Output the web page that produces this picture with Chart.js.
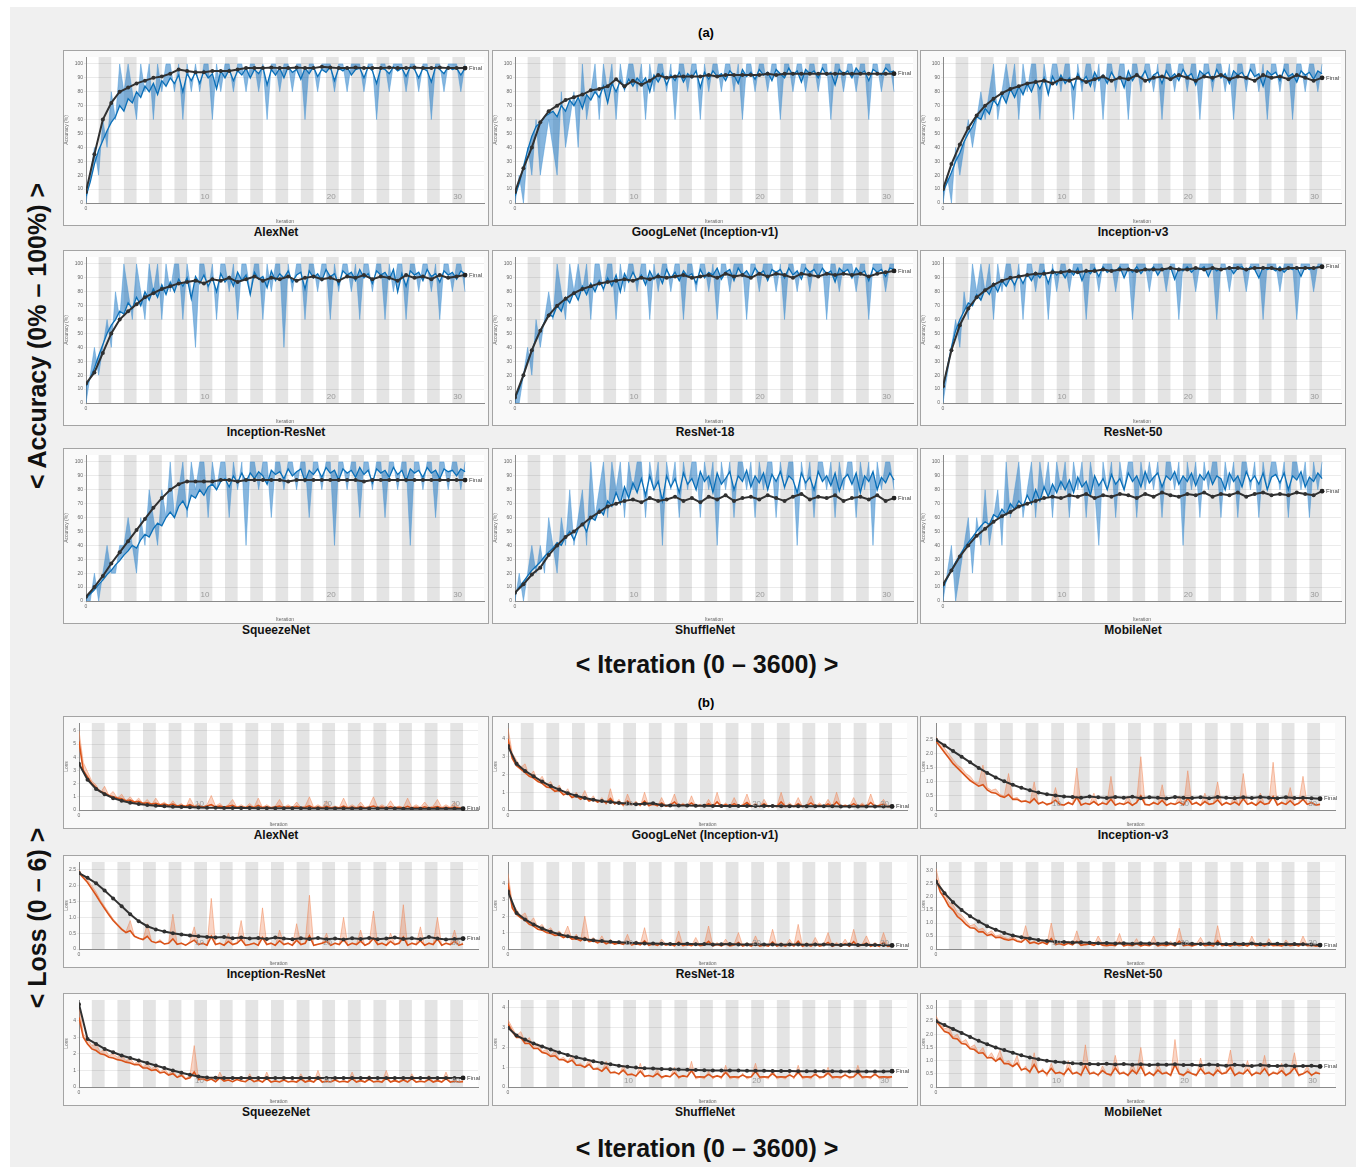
<!DOCTYPE html>
<html lang="en">
<head>
<meta charset="UTF-8">
<title>Training progress</title>
<style>
  body { margin: 0; width: 1364px; height: 1169px; background: #fff; position: relative; overflow: hidden;
         font-family: "Liberation Sans", Arial, sans-serif; }
  #frame { position: absolute; left: 10px; top: 7px; width: 1346px; height: 1160px; background: #f0f0f0; }
  .box { position: absolute; border: 1px solid #a4a4a4; background: #f9f9f9; box-sizing: border-box; }
  .box canvas { position: absolute; left: 0; top: 0; }
  .name { position: absolute; width: 426px; text-align: center; line-height: 16px;
          font: bold 12px "Liberation Sans Narrow", "Liberation Sans", Arial, sans-serif; color: #111; }
  .big { position: absolute; font: bold 25px "Liberation Sans", Arial, sans-serif; color: #111; white-space: nowrap;
         transform: translate(-50%, -50%); }
  .vert { transform: translate(-50%, -50%) rotate(-90deg); }
  .tag { position: absolute; font: bold 13px "Liberation Sans", Arial, sans-serif; transform: translate(-50%, -50%); }
</style>
</head>
<body>
<div id="frame"></div>
<div class="tag" style="left:706px;top:32px">(a)</div>
<div class="tag" style="left:706px;top:702px">(b)</div>
<div class="big" style="left:707px;top:664px">&lt; Iteration (0 – 3600) &gt;</div>
<div class="big" style="left:707px;top:1148px">&lt; Iteration (0 – 3600) &gt;</div>
<div class="big vert" style="left:37px;top:336px">&lt; Accuracy (0% – 100%) &gt;</div>
<div class="big vert" style="left:37px;top:918px">&lt; Loss (0 – 6) &gt;</div>

<script src="https://cdn.jsdelivr.net/npm/chart.js"></script>
<script>
// iterations of the training curves (raw / smoothed) and of the validation points
const ITERS = [0,40,80,120,160,200,240,280,320,360,
  400,440,480,520,560,600,640,680,720,760,
  800,840,880,920,960,1000,1040,1080,1120,1160,
  1200,1240,1280,1320,1360,1400,1440,1480,1520,1560,
  1600,1640,1680,1720,1760,1800,1840,1880,1920,1960,
  2000,2040,2080,2120,2160,2200,2240,2280,2320,2360,
  2400,2440,2480,2520,2560,2600,2640,2680,2720,2760,
  2800,2840,2880,2920,2960,3000,3040,3080,3120,3160,
  3200,3240,3280,3320,3360,3400,3440,3480,3520,3560,
  3600];
const VAL_ITERS = [0,80,160,240,320,400,480,560,640,720,
  800,880,960,1040,1120,1200,1280,1360,1440,1520,
  1600,1680,1760,1840,1920,2000,2080,2160,2240,2320,
  2400,2480,2560,2640,2720,2800,2880,2960,3040,3120,
  3200,3280,3360,3440,3520,3600];
const EPOCH_LEN = 120;
const N_EPOCHS = 30;
const EPOCH_TAGS = [10, 20, 30];

// ---------- accuracy (%) ----------
const alexAccRaw = [0,20,40,20,60,40,80,60,100,80, 100,80,60,100,80,100,60,100,80,100,
  100,80,100,60,100,80,100,80,100,100, 60,100,80,100,100,80,100,100,80,100,
  100,80,100,60,100,100,80,100,100,80, 100,100,60,100,100,80,100,100,100,80,
  100,100,80,100,100,100,80,100,100,60, 100,100,80,100,100,100,80,100,100,80,
  100,100,60,100,100,80,100,100,100,80, 100];
const alexAccSmooth = [5,15,28,38,45,52,58,62,70,66, 75,72,80,76,84,80,86,78,88,84,
  90,86,92,80,93,88,94,86,95,90, 93,82,95,90,96,88,95,92,97,90,
  96,93,98,85,96,92,97,90,98,94, 96,89,97,93,98,91,96,94,98,88,
  97,95,98,92,96,97,90,98,95,86, 97,96,93,98,95,97,91,98,96,90,
  97,95,87,98,96,93,98,96,97,92, 97];
const alexAccVal = [8,35,60,72,80,83,86,88,90,91, 93,96,95,94,94,95,95,95,96,97,
  97,97,97.5,97,97,97.5,97,97,98,97.5, 97,97,97.5,97,97,97,97.5,97,97,97.5, 97,97,97.5,97,97,97];

const googAccRaw = [0,20,0,40,20,60,20,40,60,40, 20,80,40,60,80,40,100,60,80,100,
  60,100,80,100,60,100,80,100,100,80, 100,60,100,80,100,100,80,100,60,100,
  100,80,100,100,60,100,80,100,100,80, 100,100,80,100,60,100,100,80,100,100,
  80,100,100,60,100,100,80,100,100,80, 100,100,80,100,100,60,100,100,80,100,
  100,80,100,100,60,100,100,80,100,100, 80];
const googAccSmooth = [5,14,26,38,48,55,58,62,64,66, 62,70,66,74,70,76,68,78,74,80,
  76,84,72,86,80,88,82,89,84,90, 86,90,80,92,87,93,85,92,88,94,
  87,93,90,95,83,94,89,95,91,93, 88,95,92,86,96,91,94,89,96,92,
  94,88,96,93,90,97,92,95,87,96, 93,95,90,97,92,94,85,96,93,95,
  90,97,93,95,88,96,94,92,97,94, 95];
const googAccVal = [8,25,40,58,66,70,74,76,78,81, 82,84,89,84,88,85,88,92,90,91,
  91,91,91,92,91,92,92,92,92,92, 93,92,93,93,93,93,93,93,93,93, 93,93,93,93,93,93];

const incv3AccRaw = [0,20,0,40,20,40,60,40,60,80, 60,80,100,60,80,100,80,100,60,100,
  80,100,100,60,100,80,100,100,80,100, 100,60,100,80,100,100,80,100,60,100,
  100,80,100,100,60,100,100,80,100,100, 80,100,60,100,100,80,100,100,80,100,
  100,60,100,100,80,100,100,80,100,60, 100,100,80,100,100,80,100,60,100,100,
  80,100,100,60,100,100,80,100,100,80, 100];
const incv3AccSmooth = [8,15,22,30,36,44,50,55,62,60, 68,64,74,70,78,72,82,76,84,78,
  86,80,88,82,90,78,91,85,92,86, 90,82,93,87,91,84,94,88,92,86,
  94,89,91,83,95,88,93,90,95,87, 92,94,86,95,90,93,88,96,91,93,
  85,95,92,94,88,96,90,93,86,95, 92,94,89,96,91,93,84,95,92,94,
  88,96,91,93,87,95,92,94,89,95, 93];
const incv3AccVal = [10,28,42,54,63,70,75,79,82,84, 86,87,88,86,89,88,90,87,89,91,
  88,90,89,92,88,90,91,89,92,90, 88,91,90,92,89,91,90,88,92,90, 91,89,92,90,88,90];

const incresAccRaw = [0,20,40,20,40,60,40,80,60,100, 80,60,100,80,60,100,80,100,60,100,
  80,100,100,60,100,80,40,100,100,80, 100,60,100,100,80,100,60,100,100,80,
  100,100,60,100,80,100,100,40,100,80, 100,100,60,100,100,80,100,100,60,100,
  80,100,100,80,100,60,100,100,80,100, 100,60,100,80,100,100,60,100,100,80,
  100,100,80,100,60,100,100,80,100,100, 80];
const incresAccSmooth = [12,18,25,34,42,50,56,60,66,64, 72,68,76,70,80,74,82,76,85,78,
  87,80,89,84,90,75,91,86,92,84, 90,80,93,87,91,84,94,88,92,78,
  94,89,91,83,95,88,93,90,95,87, 92,94,82,95,90,93,88,96,91,93,
  85,95,92,94,88,96,90,93,86,95, 92,94,89,96,80,93,84,95,92,94,
  88,96,91,93,87,95,92,94,89,95, 93];
const incresAccVal = [14,22,36,50,60,66,71,76,79,82, 84,86,87,88,86,89,88,90,87,89,
  91,88,90,89,91,88,90,91,89,90, 88,91,90,92,89,91,90,88,92,90, 91,89,92,90,91,92];

const res18AccRaw = [0,0,20,40,20,60,40,60,80,60, 100,80,60,100,80,100,80,100,60,100,
  100,80,100,100,60,100,80,100,100,80, 100,100,60,100,80,100,100,80,100,100,
  60,100,100,80,100,100,80,100,60,100, 100,80,100,100,100,60,100,100,80,100,
  100,100,80,100,60,100,100,80,100,100, 80,100,100,100,60,100,100,80,100,100,
  100,80,100,100,60,100,100,100,80,100, 100];
const res18AccSmooth = [3,10,20,30,38,46,52,58,64,62, 70,66,76,72,80,74,84,78,86,80,
  88,82,90,84,92,80,93,87,94,88, 92,85,95,89,93,86,96,90,94,88,
  95,91,93,86,96,90,94,92,97,89, 94,96,88,97,92,95,90,97,93,95,
  88,96,94,96,90,97,92,95,89,97, 94,96,91,97,93,95,87,97,94,96,
  90,97,93,95,88,97,94,96,91,97, 96];
const res18AccVal = [4,20,38,52,63,70,75,79,82,84, 86,87,88,89,88,90,89,91,90,91,
  92,90,91,92,90,93,91,92,90,93, 91,93,92,90,93,92,91,93,92,93, 92,93,91,93,94,95];

const res50AccRaw = [0,20,40,60,40,80,60,100,80,100, 80,100,60,100,80,100,100,80,100,60,
  100,100,80,100,100,60,100,80,100,100, 80,100,100,100,60,100,100,80,100,100,
  100,80,100,100,100,60,100,100,100,80, 100,100,100,80,100,100,60,100,100,100,
  80,100,100,100,100,60,100,100,80,100, 100,100,80,100,100,100,60,100,100,100,
  80,100,100,100,60,100,100,100,80,100, 100];
const res50AccSmooth = [10,25,40,52,60,66,72,70,78,74, 82,78,86,80,88,84,90,85,92,86,
  93,88,94,90,95,86,96,92,95,90, 96,92,97,88,96,93,97,91,98,94,
  96,95,98,90,97,94,98,93,97,95, 98,92,97,96,98,89,97,95,98,94,
  97,96,98,91,98,95,97,96,98,93, 97,98,95,98,96,90,98,96,97,95,
  98,94,97,96,98,91,98,96,97,98, 97];
const res50AccVal = [12,38,56,68,76,81,85,88,90,91, 92,93,93,94,94,95,94,95,95,96,
  95,96,96,95,96,96,96,97,96,96, 97,96,97,96,97,97,96,97,97,97, 96,97,97,97,97,98];

const squeezeAccRaw = [0,0,20,0,20,40,20,20,40,40, 60,40,20,60,40,80,60,40,80,60,
  100,60,80,100,60,100,80,100,100,60, 100,80,100,100,60,100,80,100,40,100,
  100,80,100,100,60,100,100,80,100,100, 80,100,100,60,100,100,80,100,100,40,
  100,100,80,100,100,60,100,100,80,100, 100,60,100,100,80,100,100,40,100,100,
  80,100,100,60,100,100,80,100,100,80, 100];
const squeezeAccSmooth = [2,5,8,12,15,19,22,26,29,33, 36,40,38,44,48,46,52,56,54,60,
  64,60,68,72,66,76,74,80,76,82, 84,80,86,88,82,90,85,92,86,92,
  88,93,90,84,94,91,93,88,95,90, 93,95,86,94,91,95,89,96,92,94,
  87,95,92,94,89,96,91,94,85,95, 92,94,89,96,91,94,86,95,92,94,
  89,96,92,94,88,95,93,94,90,95, 93];
const squeezeAccVal = [3,10,18,27,35,43,51,59,67,74, 80,84,86,86,86,86,87,87,86,87,
  87,87,87,87,86,87,87,87,87,87, 87,87,87,86,87,87,87,87,87,87, 87,87,87,87,87,87];

const shuffleAccRaw = [0,20,0,20,40,20,40,20,60,40, 20,60,40,80,40,60,80,40,100,60,
  80,100,60,100,80,100,60,100,80,100, 100,60,100,80,100,40,100,80,100,60,
  100,80,100,100,60,100,80,100,40,100, 80,100,60,100,100,80,100,60,100,80,
  100,100,60,100,80,100,100,40,100,80, 100,60,100,100,80,100,60,100,80,100,
  100,60,100,80,100,40,100,80,100,100, 80];
const shuffleAccSmooth = [5,10,14,18,22,25,28,32,35,38, 42,40,46,50,44,52,56,50,60,58,
  66,62,72,68,78,70,82,74,85,78, 88,76,90,80,86,72,90,82,88,78,
  92,84,88,80,93,86,90,78,92,84, 88,93,80,90,86,94,82,90,85,92,
  80,91,86,93,82,90,87,78,92,85, 89,80,93,86,90,83,92,79,88,91,
  84,92,78,90,86,93,80,89,85,92, 87];
const shuffleAccVal = [6,12,19,24,33,40,46,50,55,60, 64,68,70,72,73,71,74,72,73,75,
  72,74,71,75,73,76,72,74,75,73, 76,74,72,75,77,73,75,74,76,72, 74,75,73,76,72,74];

const mobileAccRaw = [0,20,40,0,20,40,60,20,60,40, 80,40,60,80,40,100,60,80,100,60,
  80,100,60,100,80,100,60,100,80,100, 60,100,80,100,60,100,80,40,100,80,
  100,60,100,80,100,100,60,100,80,100, 80,100,60,100,100,80,100,40,100,80,
  100,60,100,80,100,100,60,100,80,100, 60,100,100,80,100,60,100,80,100,100,
  80,100,60,100,100,80,100,60,100,80, 100];
const mobileAccSmooth = [10,16,22,28,33,38,42,46,50,54, 57,55,62,60,66,62,70,66,72,68,
  76,70,80,72,82,75,84,78,86,80, 87,78,89,82,86,76,90,83,88,80,
  91,84,88,80,92,86,90,82,93,85, 89,92,82,90,87,93,84,90,86,92,
  83,91,87,93,84,90,88,80,92,86, 90,82,93,86,90,84,92,80,89,91,
  85,92,80,90,87,93,82,89,86,92, 88];
const mobileAccVal = [12,22,32,40,47,52,57,61,64,68, 70,72,74,75,74,76,75,77,74,76,
  75,77,76,74,77,75,78,76,75,77, 76,78,75,77,76,78,75,77,78,76, 77,76,78,77,76,79];

// ---------- loss ----------
const alexLossRaw = [6.0,3.6,2.9,2.2,1.9,1.3,1.8,1.1,1.4,0.9, 1.2,0.7,1.0,0.6,0.9,0.5,0.8,0.4,0.9,0.4,
  0.6,0.3,0.7,0.3,0.5,0.2,0.9,0.3,0.5,0.2, 0.4,1.1,0.3,0.5,0.2,0.4,0.8,0.2,0.4,0.2,
  0.5,0.2,0.9,0.2,0.4,0.2,0.3,0.8,0.2,0.4, 0.2,0.6,0.2,0.3,1.0,0.2,0.4,0.2,0.7,0.2,
  0.3,0.2,0.9,0.2,0.4,0.2,0.6,0.2,0.3,1.0, 0.2,0.4,0.2,0.7,0.2,0.3,0.2,0.9,0.2,0.4,
  0.2,0.6,0.2,0.3,0.8,0.2,0.4,0.2,0.6,0.2, 0.2];
const alexLossSmooth = [5.2,3.0,2.5,2.0,1.7,1.4,1.3,1.1,1.0,0.9, 0.85,0.7,0.75,0.6,0.65,0.5,0.55,0.45,0.5,0.4,
  0.45,0.35,0.45,0.3,0.35,0.28,0.4,0.25,0.32,0.22, 0.3,0.4,0.22,0.3,0.2,0.28,0.35,0.2,0.25,0.18,
  0.28,0.18,0.35,0.18,0.25,0.17,0.22,0.3,0.17,0.24, 0.17,0.28,0.16,0.2,0.32,0.16,0.22,0.16,0.28,0.15,
  0.2,0.15,0.3,0.15,0.22,0.15,0.25,0.15,0.2,0.3, 0.15,0.22,0.14,0.26,0.14,0.2,0.14,0.28,0.14,0.2,
  0.14,0.24,0.14,0.18,0.26,0.13,0.2,0.13,0.22,0.13, 0.15];
const alexLossVal = [3.5,2.3,1.6,1.2,0.9,0.7,0.55,0.45,0.38,0.32, 0.28,0.25,0.22,0.2,0.19,0.18,0.17,0.16,0.16,0.15,
  0.15,0.14,0.14,0.14,0.13,0.13,0.13,0.12,0.12,0.12, 0.12,0.12,0.11,0.11,0.11,0.11,0.11,0.11,0.1,0.1,
  0.1,0.1,0.1,0.1,0.1,0.1];

const googLossRaw = [4.6,3.2,2.8,2.4,2.6,1.9,2.2,1.6,1.9,1.4, 1.6,1.1,1.4,0.9,1.2,0.7,1.0,0.6,1.1,0.5,
  0.8,0.4,0.7,0.3,1.2,0.3,0.6,0.2,0.9,0.3, 0.5,0.2,1.0,0.2,0.4,0.2,0.7,0.2,0.3,0.9,
  0.2,0.4,0.2,0.8,0.2,0.3,0.2,0.6,0.2,1.0, 0.2,0.4,0.2,0.7,0.2,0.3,0.9,0.2,0.4,0.2,
  0.6,0.2,0.3,0.2,1.0,0.2,0.4,0.2,0.7,0.2, 0.3,0.8,0.2,0.4,0.2,0.6,0.2,1.0,0.2,0.3,
  0.2,0.7,0.2,0.4,0.2,0.9,0.2,0.3,0.6,0.2, 0.3];
const googLossSmooth = [4.0,2.9,2.5,2.3,2.1,1.9,1.8,1.6,1.5,1.3, 1.25,1.05,1.1,0.85,0.95,0.7,0.8,0.6,0.75,0.5,
  0.6,0.45,0.55,0.4,0.65,0.35,0.45,0.3,0.5,0.3, 0.38,0.28,0.5,0.25,0.32,0.24,0.4,0.22,0.28,0.45,
  0.22,0.3,0.22,0.4,0.21,0.27,0.2,0.35,0.2,0.45, 0.2,0.3,0.2,0.36,0.2,0.26,0.42,0.2,0.3,0.19,
  0.35,0.19,0.25,0.19,0.45,0.19,0.28,0.19,0.36,0.19, 0.24,0.4,0.19,0.28,0.19,0.34,0.19,0.45,0.19,0.25,
  0.19,0.36,0.19,0.28,0.19,0.42,0.19,0.25,0.33,0.19, 0.22];
const googLossVal = [3.6,2.6,2.2,1.9,1.6,1.35,1.15,0.95,0.8,0.68, 0.58,0.5,0.45,0.4,0.36,0.33,0.35,0.38,0.27,0.26,
  0.25,0.25,0.24,0.24,0.23,0.23,0.23,0.22,0.22,0.22, 0.22,0.22,0.21,0.21,0.21,0.21,0.21,0.21,0.21,0.2,
  0.2,0.2,0.2,0.2,0.2,0.2];

const incv3LossRaw = [2.6,2.4,2.2,2.0,1.8,1.6,1.5,1.3,1.2,1.0, 0.95,1.6,0.8,0.7,0.75,0.55,0.5,1.3,0.4,0.45,
  0.3,0.35,0.25,1.0,0.2,0.3,0.15,0.25,0.8,0.2, 0.15,0.3,0.2,1.5,0.15,0.25,0.2,0.6,0.15,0.3,
  0.2,1.2,0.15,0.25,0.2,0.5,0.15,0.3,1.9,0.2, 0.15,0.3,0.2,0.9,0.15,0.25,0.2,0.5,0.15,1.4,
  0.2,0.3,0.15,0.6,0.2,0.25,1.0,0.15,0.3,0.2, 0.5,0.15,1.3,0.2,0.3,0.15,0.6,0.2,0.25,1.7,
  0.15,0.3,0.2,0.8,0.15,0.25,1.2,0.2,0.3,0.15, 0.2];
const incv3LossSmooth = [2.45,2.25,2.05,1.85,1.65,1.5,1.35,1.2,1.05,0.95, 0.85,0.9,0.72,0.62,0.6,0.5,0.45,0.55,0.38,0.38,
  0.3,0.32,0.26,0.4,0.22,0.28,0.2,0.24,0.35,0.2, 0.18,0.26,0.2,0.45,0.18,0.24,0.2,0.3,0.18,0.25,
  0.2,0.38,0.18,0.24,0.2,0.28,0.17,0.26,0.5,0.2, 0.18,0.26,0.2,0.34,0.17,0.24,0.2,0.28,0.18,0.42,
  0.2,0.26,0.17,0.3,0.2,0.23,0.36,0.18,0.26,0.2, 0.28,0.18,0.4,0.2,0.26,0.17,0.3,0.2,0.24,0.48,
  0.18,0.26,0.2,0.33,0.18,0.24,0.38,0.2,0.26,0.18, 0.2];
const incv3LossVal = [2.5,2.3,2.1,1.9,1.7,1.5,1.32,1.16,1.02,0.9, 0.79,0.7,0.62,0.56,0.52,0.48,0.46,0.44,0.48,0.45,
  0.43,0.46,0.44,0.47,0.42,0.45,0.44,0.41,0.46,0.44, 0.43,0.45,0.42,0.46,0.44,0.42,0.45,0.43,0.46,0.44,
  0.42,0.45,0.43,0.44,0.42,0.4];

const incresLossRaw = [2.5,2.3,2.2,2.0,1.8,1.55,1.35,1.15,0.95,0.8, 0.65,0.55,0.9,0.4,0.35,0.3,0.8,0.25,0.2,0.3,
  0.15,0.2,1.1,0.15,0.2,0.1,0.25,0.7,0.15,0.2, 0.1,1.6,0.15,0.2,0.1,0.5,0.15,0.2,0.9,0.1,
  0.15,0.2,0.1,1.3,0.15,0.2,0.1,0.6,0.15,0.2, 0.1,0.8,0.15,0.2,1.7,0.1,0.15,0.2,0.5,0.1,
  0.2,0.15,1.0,0.1,0.2,0.15,0.6,0.1,0.2,1.2, 0.15,0.2,0.1,0.5,0.15,0.2,1.4,0.1,0.2,0.15,
  0.7,0.1,0.2,0.15,1.0,0.1,0.2,0.15,0.6,0.1, 0.2];
const incresLossSmooth = [2.4,2.25,2.1,1.9,1.7,1.48,1.28,1.08,0.9,0.76, 0.62,0.52,0.58,0.4,0.34,0.3,0.4,0.24,0.2,0.24,
  0.16,0.18,0.32,0.15,0.18,0.12,0.2,0.28,0.14,0.18, 0.12,0.4,0.14,0.18,0.12,0.24,0.14,0.18,0.3,0.12,
  0.14,0.18,0.12,0.36,0.14,0.18,0.12,0.26,0.14,0.18, 0.12,0.28,0.14,0.18,0.42,0.12,0.15,0.18,0.24,0.12,
  0.18,0.14,0.3,0.12,0.18,0.14,0.25,0.12,0.18,0.34, 0.14,0.18,0.12,0.24,0.14,0.18,0.38,0.12,0.18,0.14,
  0.26,0.12,0.18,0.14,0.32,0.12,0.18,0.14,0.24,0.12, 0.16];
const incresLossVal = [2.4,2.25,2.08,1.85,1.6,1.35,1.1,0.88,0.72,0.62, 0.55,0.5,0.46,0.43,0.4,0.38,0.36,0.38,0.34,0.36,
  0.33,0.35,0.32,0.36,0.33,0.31,0.34,0.32,0.35,0.31, 0.33,0.3,0.34,0.32,0.35,0.31,0.33,0.36,0.32,0.34,
  0.31,0.38,0.33,0.3,0.32,0.33];

const res18LossRaw = [4.6,2.8,2.4,2.0,2.2,1.6,1.9,1.3,1.5,1.1, 1.3,0.9,1.1,0.8,1.4,0.6,0.9,0.5,2.0,0.5,
  0.7,0.4,0.8,0.3,0.6,0.3,0.5,0.3,0.9,0.2, 0.5,0.3,1.3,0.2,0.4,0.2,0.6,0.3,0.4,0.2,
  1.1,0.2,0.4,0.2,0.7,0.2,0.3,1.4,0.2,0.4, 0.2,0.6,0.2,0.3,1.0,0.2,0.4,0.2,0.8,0.2,
  0.3,0.2,1.2,0.2,0.4,0.2,0.6,0.2,1.5,0.2, 0.4,0.2,0.7,0.2,0.3,1.0,0.2,0.4,0.2,0.6,
  0.2,1.2,0.2,0.3,0.8,0.2,0.4,0.2,1.0,0.2, 0.3];
const res18LossSmooth = [4.0,2.5,2.1,1.9,1.75,1.5,1.4,1.2,1.15,1.0, 0.95,0.82,0.85,0.7,0.8,0.6,0.62,0.5,0.7,0.45,
  0.5,0.38,0.5,0.32,0.42,0.3,0.36,0.28,0.45,0.25, 0.34,0.26,0.5,0.22,0.3,0.22,0.36,0.24,0.3,0.2,
  0.42,0.2,0.28,0.2,0.34,0.2,0.24,0.46,0.19,0.28, 0.19,0.32,0.19,0.24,0.4,0.18,0.28,0.18,0.36,0.18,
  0.24,0.18,0.42,0.18,0.28,0.18,0.32,0.18,0.48,0.17, 0.28,0.17,0.34,0.17,0.24,0.4,0.17,0.28,0.17,0.32,
  0.17,0.44,0.17,0.24,0.36,0.16,0.28,0.16,0.4,0.16, 0.2];
const res18LossVal = [3.5,2.2,1.8,1.5,1.25,1.05,0.9,0.78,0.68,0.6, 0.53,0.48,0.44,0.41,0.38,0.36,0.34,0.33,0.32,0.31,
  0.3,0.32,0.29,0.3,0.28,0.29,0.3,0.28,0.27,0.29, 0.27,0.28,0.26,0.28,0.27,0.26,0.28,0.27,0.26,0.25,
  0.27,0.25,0.26,0.25,0.24,0.22];

const res50LossRaw = [3.1,2.4,2.2,1.8,1.7,1.4,1.3,1.1,0.9,0.95, 0.75,0.8,0.6,0.7,0.5,0.55,0.45,0.4,0.5,0.35,
  0.3,0.9,0.25,0.3,0.2,0.35,0.2,1.0,0.2,0.25, 0.15,0.3,0.2,0.7,0.15,0.2,0.25,0.15,0.5,0.2,
  0.15,0.2,0.15,0.6,0.1,0.2,0.15,0.4,0.1,0.2, 0.15,0.5,0.1,0.2,0.15,0.3,0.1,0.8,0.15,0.2,
  0.1,0.2,0.45,0.15,0.2,0.1,0.9,0.15,0.2,0.1, 0.3,0.15,0.2,0.1,0.5,0.15,0.2,0.1,0.4,0.15,
  0.2,0.1,0.35,0.15,0.2,0.1,0.5,0.15,0.2,0.1, 0.15];
const res50LossSmooth = [2.7,2.2,1.95,1.65,1.5,1.25,1.12,0.95,0.82,0.8, 0.66,0.66,0.52,0.56,0.44,0.45,0.38,0.34,0.38,0.3,
  0.26,0.4,0.22,0.26,0.2,0.26,0.18,0.4,0.17,0.2, 0.15,0.22,0.16,0.3,0.14,0.17,0.19,0.14,0.24,0.15,
  0.13,0.16,0.13,0.26,0.12,0.16,0.13,0.2,0.12,0.16, 0.13,0.22,0.12,0.16,0.13,0.18,0.12,0.3,0.13,0.16,
  0.12,0.16,0.22,0.13,0.16,0.12,0.32,0.13,0.16,0.12, 0.18,0.13,0.16,0.12,0.22,0.13,0.16,0.12,0.2,0.13,
  0.15,0.12,0.18,0.13,0.16,0.12,0.22,0.13,0.15,0.12, 0.13];
const res50LossVal = [2.6,2.15,1.8,1.5,1.26,1.06,0.88,0.74,0.62,0.52, 0.45,0.4,0.35,0.31,0.28,0.27,0.25,0.26,0.24,0.22,
  0.23,0.21,0.22,0.2,0.22,0.21,0.2,0.22,0.19,0.21, 0.2,0.19,0.21,0.2,0.18,0.2,0.19,0.21,0.18,0.19,
  0.2,0.18,0.19,0.18,0.17,0.15];

const squeezeLossRaw = [5.0,3.2,2.9,2.5,2.6,2.1,2.3,1.9,2.0,1.8, 1.9,1.6,1.7,1.4,1.6,1.2,1.4,1.1,1.3,0.9,
  1.1,0.8,1.0,0.6,0.9,0.5,0.7,2.5,0.5,0.6, 0.4,0.6,0.3,0.9,0.4,0.5,0.3,0.6,0.4,0.3,
  0.8,0.3,0.5,0.3,0.9,0.3,0.4,0.3,0.6,0.3, 0.4,0.3,0.8,0.3,0.5,0.3,1.0,0.3,0.4,0.3,
  0.6,0.3,0.4,0.3,0.9,0.3,0.5,0.3,0.7,0.3, 0.4,0.3,1.0,0.3,0.5,0.3,0.6,0.3,0.8,0.3,
  0.4,0.3,0.7,0.3,0.5,0.3,0.9,0.3,0.4,0.3, 0.4];
const squeezeLossSmooth = [4.2,3.0,2.6,2.3,2.2,2.0,1.95,1.8,1.75,1.65, 1.6,1.5,1.45,1.35,1.35,1.15,1.15,1.0,1.05,0.85,
  0.9,0.72,0.8,0.58,0.7,0.48,0.55,0.9,0.45,0.5, 0.38,0.48,0.32,0.55,0.36,0.42,0.32,0.45,0.36,0.32,
  0.5,0.32,0.4,0.3,0.52,0.3,0.36,0.3,0.42,0.3, 0.35,0.3,0.48,0.3,0.38,0.3,0.55,0.3,0.35,0.3,
  0.42,0.3,0.35,0.3,0.5,0.3,0.38,0.3,0.46,0.3, 0.35,0.3,0.55,0.3,0.38,0.3,0.42,0.3,0.5,0.3,
  0.35,0.3,0.46,0.3,0.38,0.3,0.5,0.3,0.35,0.3, 0.32];
const squeezeLossVal = [5.0,2.9,2.6,2.3,2.1,1.9,1.75,1.6,1.45,1.3, 1.15,1.0,0.86,0.74,0.64,0.58,0.56,0.55,0.55,0.55,
  0.55,0.55,0.55,0.55,0.54,0.54,0.54,0.54,0.54,0.54, 0.54,0.54,0.54,0.54,0.54,0.54,0.54,0.54,0.54,0.54,
  0.54,0.54,0.54,0.54,0.55,0.55];

const shuffleLossRaw = [3.4,3.0,2.6,2.8,2.3,2.5,2.0,2.2,1.8,1.9, 1.6,1.8,1.4,1.5,1.3,1.6,1.1,1.2,1.0,1.4,
  0.9,1.0,0.8,1.3,0.7,0.8,0.6,1.1,0.6,0.7, 0.5,1.2,0.5,0.6,0.5,0.9,0.4,0.6,0.5,1.0,
  0.4,0.6,0.5,1.3,0.4,0.5,0.4,0.8,0.4,0.6, 0.4,1.1,0.4,0.5,0.4,0.7,0.4,0.5,1.2,0.4,
  0.5,0.4,0.9,0.4,0.5,0.4,0.7,0.4,1.1,0.4, 0.5,0.4,0.8,0.4,0.5,1.0,0.4,0.5,0.4,0.7,
  0.4,0.5,1.1,0.4,0.5,0.4,0.8,0.4,0.5,0.4, 0.5];
const shuffleLossSmooth = [3.2,2.8,2.5,2.5,2.2,2.2,1.95,1.95,1.75,1.7, 1.55,1.58,1.38,1.38,1.25,1.35,1.1,1.1,1.0,1.15,
  0.9,0.92,0.8,1.0,0.72,0.74,0.66,0.85,0.62,0.64, 0.56,0.8,0.54,0.58,0.52,0.68,0.5,0.56,0.52,0.72,
  0.5,0.56,0.52,0.82,0.5,0.52,0.5,0.64,0.5,0.56, 0.5,0.74,0.5,0.52,0.5,0.6,0.5,0.52,0.78,0.5,
  0.52,0.5,0.68,0.5,0.52,0.5,0.6,0.5,0.74,0.5, 0.52,0.5,0.64,0.5,0.52,0.7,0.5,0.52,0.5,0.6,
  0.5,0.52,0.72,0.5,0.52,0.5,0.64,0.5,0.52,0.5, 0.52];
const shuffleLossVal = [3.0,2.6,2.4,2.2,2.05,1.9,1.75,1.62,1.5,1.4, 1.3,1.22,1.15,1.08,1.02,0.98,0.95,0.93,0.91,0.9,
  0.88,0.87,0.86,0.85,0.84,0.84,0.83,0.83,0.82,0.82, 0.82,0.81,0.81,0.81,0.8,0.8,0.8,0.8,0.8,0.79,
  0.79,0.79,0.79,0.78,0.78,0.8];

const mobileLossRaw = [2.7,2.4,2.2,2.3,1.9,2.0,1.7,1.8,1.5,1.6, 1.3,1.5,1.1,1.3,1.0,1.4,0.9,1.0,0.8,1.2,
  0.6,0.8,0.5,1.3,0.5,0.7,0.4,0.9,0.5,0.6, 0.4,1.0,0.5,0.6,0.4,1.6,0.5,0.6,0.4,0.8,
  0.5,0.4,1.2,0.5,0.6,0.4,0.9,0.5,1.5,0.4, 0.6,0.4,0.9,0.5,0.6,0.4,1.8,0.5,0.4,0.7,
  0.5,0.4,1.1,0.5,0.6,0.4,0.9,0.5,0.6,1.4, 0.4,0.6,0.5,1.0,0.4,0.6,0.5,1.2,0.4,0.6,
  0.5,0.9,0.4,0.6,1.3,0.4,0.5,0.8,0.4,0.6, 0.5];
const mobileLossSmooth = [2.5,2.3,2.1,2.05,1.85,1.82,1.65,1.62,1.45,1.42, 1.28,1.3,1.1,1.12,0.98,1.1,0.88,0.88,0.78,0.9,
  0.65,0.7,0.58,0.85,0.56,0.62,0.5,0.7,0.52,0.55, 0.48,0.7,0.5,0.55,0.46,0.8,0.5,0.54,0.46,0.62,
  0.5,0.46,0.72,0.5,0.54,0.45,0.64,0.5,0.78,0.45, 0.54,0.45,0.64,0.5,0.54,0.45,0.85,0.5,0.45,0.58,
  0.5,0.45,0.7,0.5,0.54,0.45,0.64,0.5,0.54,0.74, 0.45,0.54,0.5,0.66,0.45,0.54,0.5,0.7,0.45,0.54,
  0.5,0.62,0.45,0.54,0.74,0.45,0.5,0.6,0.45,0.54, 0.5];
const mobileLossVal = [2.5,2.35,2.2,2.05,1.9,1.75,1.62,1.5,1.4,1.3, 1.2,1.12,1.05,1.0,0.96,0.93,0.9,0.88,0.87,0.86,
  0.88,0.85,0.87,0.84,0.86,0.83,0.85,0.84,0.86,0.83, 0.84,0.82,0.85,0.83,0.81,0.84,0.82,0.8,0.83,0.81,
  0.8,0.82,0.79,0.8,0.81,0.78];

const accPanels = [
  { name: 'AlexNet', raw: alexAccRaw, smooth: alexAccSmooth, val: alexAccVal },
  { name: 'GoogLeNet (Inception-v1)', raw: googAccRaw, smooth: googAccSmooth, val: googAccVal },
  { name: 'Inception-v3', raw: incv3AccRaw, smooth: incv3AccSmooth, val: incv3AccVal },
  { name: 'Inception-ResNet', raw: incresAccRaw, smooth: incresAccSmooth, val: incresAccVal },
  { name: 'ResNet-18', raw: res18AccRaw, smooth: res18AccSmooth, val: res18AccVal },
  { name: 'ResNet-50', raw: res50AccRaw, smooth: res50AccSmooth, val: res50AccVal },
  { name: 'SqueezeNet', raw: squeezeAccRaw, smooth: squeezeAccSmooth, val: squeezeAccVal },
  { name: 'ShuffleNet', raw: shuffleAccRaw, smooth: shuffleAccSmooth, val: shuffleAccVal },
  { name: 'MobileNet', raw: mobileAccRaw, smooth: mobileAccSmooth, val: mobileAccVal }
];
const lossPanels = [
  { name: 'AlexNet', raw: alexLossRaw, smooth: alexLossSmooth, val: alexLossVal, yMax: 6.6, yStep: 1 },
  { name: 'GoogLeNet (Inception-v1)', raw: googLossRaw, smooth: googLossSmooth, val: googLossVal, yMax: 4.9, yStep: 1 },
  { name: 'Inception-v3', raw: incv3LossRaw, smooth: incv3LossSmooth, val: incv3LossVal, yMax: 3.1, yStep: 0.5 },
  { name: 'Inception-ResNet', raw: incresLossRaw, smooth: incresLossSmooth, val: incresLossVal, yMax: 2.75, yStep: 0.5 },
  { name: 'ResNet-18', raw: res18LossRaw, smooth: res18LossSmooth, val: res18LossVal, yMax: 5.3, yStep: 1 },
  { name: 'ResNet-50', raw: res50LossRaw, smooth: res50LossSmooth, val: res50LossVal, yMax: 3.35, yStep: 0.5 },
  { name: 'SqueezeNet', raw: squeezeLossRaw, smooth: squeezeLossSmooth, val: squeezeLossVal, yMax: 5.25, yStep: 1 },
  { name: 'ShuffleNet', raw: shuffleLossRaw, smooth: shuffleLossSmooth, val: shuffleLossVal, yMax: 4.4, yStep: 1 },
  { name: 'MobileNet', raw: mobileLossRaw, smooth: mobileLossSmooth, val: mobileLossVal, yMax: 3.3, yStep: 0.5 }
];

// layout of the 3x3 grids
const COLS = [63, 492, 920];
const BOX_W = 426;
const ACC_ROWS = [50, 250, 448];
const ACC_H = 176;
const LOSS_ROWS = [716, 855, 993];
const LOSS_H = 113;

const pts = (xs, ys) => xs.map((x, i) => ({ x: x, y: ys[i] }));

// epoch shading, epoch numbers and the "Final" marker
const progressPlugin = {
  id: 'progress',
  beforeDraw(chart) {
    const { ctx, chartArea: a, scales: { x } } = chart;
    ctx.save();
    ctx.fillStyle = '#ffffff';
    ctx.fillRect(a.left, a.top, a.width, a.height);
    ctx.fillStyle = '#e4e4e4';
    for (let e = 2; e <= N_EPOCHS; e += 2) {
      const x0 = x.getPixelForValue((e - 1) * EPOCH_LEN);
      const x1 = x.getPixelForValue(e * EPOCH_LEN);
      ctx.fillRect(x0, a.top, x1 - x0, a.height);
    }
    ctx.restore();
  },
  afterDraw(chart) {
    const { ctx, chartArea: a, scales: { x, y } } = chart;
    ctx.save();
    ctx.font = '8px "Liberation Sans", Arial, sans-serif';
    ctx.fillStyle = '#9a9a9a';
    ctx.textAlign = 'right';
    ctx.textBaseline = 'bottom';
    EPOCH_TAGS.forEach(e => ctx.fillText(String(e), x.getPixelForValue(e * EPOCH_LEN) - 3, a.bottom - 2));
    const val = chart.data.datasets[0].data;
    const last = val[val.length - 1];
    const px = x.getPixelForValue(last.x), py = y.getPixelForValue(last.y);
    ctx.fillStyle = '#222';
    ctx.beginPath();
    ctx.arc(px, py, 2.4, 0, Math.PI * 2);
    ctx.fill();
    ctx.font = '6px "Liberation Sans", Arial, sans-serif';
    ctx.fillStyle = '#444';
    ctx.textAlign = 'left';
    ctx.textBaseline = 'middle';
    ctx.fillText('Final', px + 4, py);
    ctx.restore();
  }
};

function onStep(step) {
  return scale => {
    scale.ticks = scale.ticks.filter(t => Math.abs(t.value / step - Math.round(t.value / step)) < 1e-6);
  };
}

function makePanel(p, left, top, h, isAcc) {
  const box = document.createElement('div');
  box.className = 'box';
  box.style.left = left + 'px';
  box.style.top = top + 'px';
  box.style.width = BOX_W + 'px';
  box.style.height = h + 'px';
  const cv = document.createElement('canvas');
  cv.width = BOX_W - 2;
  cv.height = h - 2;
  box.appendChild(cv);
  document.body.appendChild(box);

  const title = document.createElement('div');
  title.className = 'name';
  title.textContent = p.name;
  title.style.left = left + 'px';
  title.style.top = (top + h - 1) + 'px';
  document.body.appendChild(title);

  const lightLine = isAcc ? 'rgba(70,150,215,0.6)' : 'rgba(240,130,80,0.6)';
  const band = isAcc ? 'rgba(15,110,190,0.5)' : 'rgba(235,105,50,0.28)';
  const dark = isAcc ? '#0a6fb8' : '#d9531a';
  const yStep = isAcc ? 10 : p.yStep;
  const tickFont = { size: 5, family: '"Liberation Sans", Arial, sans-serif' };

  new Chart(cv, {
    type: 'line',
    data: {
      datasets: [
        { data: pts(VAL_ITERS, p.val), borderColor: '#303030', backgroundColor: '#303030',
          borderWidth: 2, pointRadius: 2, pointBorderWidth: 0, order: 0 },
        { data: pts(ITERS, p.smooth), borderColor: dark, borderWidth: isAcc ? 1.3 : 1.6, pointRadius: 0, order: 1 },
        { data: pts(ITERS, p.raw), borderColor: lightLine, backgroundColor: band, borderWidth: 0.8,
          pointRadius: 0, fill: 1, order: 2 }
      ]
    },
    options: {
      responsive: false,
      animation: false,
      devicePixelRatio: 1,
      layout: { padding: { top: 6, right: isAcc ? 4 : 10, left: 0, bottom: 0 } },
      plugins: { legend: { display: false }, tooltip: { enabled: false } },
      elements: { line: { tension: 0 } },
      scales: {
        x: {
          type: 'linear', min: 0, max: isAcc ? 3780 : 3740,
          ticks: { stepSize: 500, font: tickFont, color: '#666', maxRotation: 0, autoSkip: false, padding: 1 },
          grid: { color: 'rgba(0,0,0,0.08)', tickLength: 2 },
          border: { color: '#8a8a8a' },
          title: { display: true, text: 'Iteration', font: tickFont, color: '#666', padding: 0 },
          afterBuildTicks: onStep(500),
          afterFit(s) { s.height = isAcc ? 22 : 18; }
        },
        y: {
          min: 0, max: isAcc ? 105 : p.yMax,
          ticks: { stepSize: yStep, font: tickFont, color: '#666', autoSkip: false, padding: 1 },
          grid: { color: 'rgba(0,0,0,0.08)', tickLength: 2 },
          border: { color: '#8a8a8a' },
          title: { display: true, text: isAcc ? 'Accuracy (%)' : 'Loss', font: tickFont, color: '#666', padding: 0 },
          afterBuildTicks: onStep(yStep),
          afterFit(s) { s.width = isAcc ? 22 : 15; }
        }
      }
    },
    plugins: [progressPlugin]
  });
}

accPanels.forEach((p, i) => makePanel(p, COLS[i % 3], ACC_ROWS[Math.floor(i / 3)], ACC_H, true));
lossPanels.forEach((p, i) => makePanel(p, COLS[i % 3], LOSS_ROWS[Math.floor(i / 3)], LOSS_H, false));
</script>
</body>
</html>
